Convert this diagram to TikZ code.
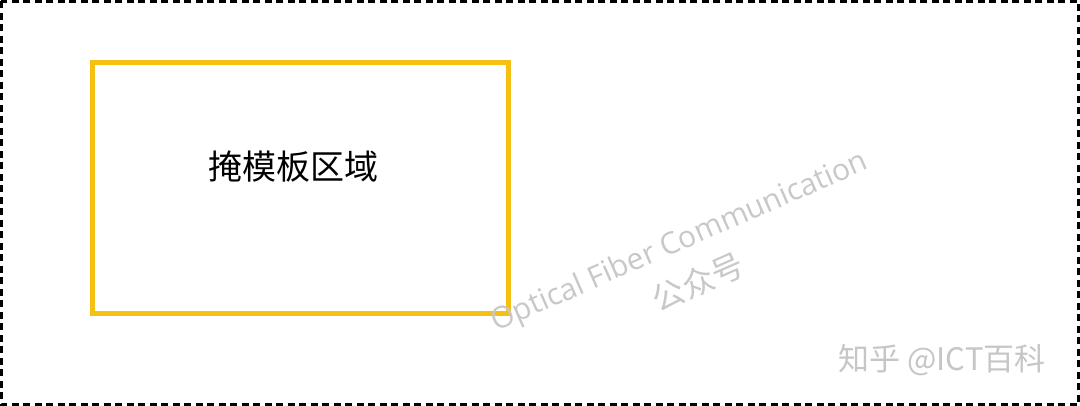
\documentclass[tikz,border=0pt]{standalone}
\usepackage{fontspec}
\newfontfamily\cjk{Noto Sans CJK SC}
\setsansfont{Open Sans}
\definecolor{maskyellow}{RGB}{245,192,18}
\definecolor{wmgray}{RGB}{200,200,200}
\begin{document}
\begin{tikzpicture}[x=1pt,y=-1pt,
  frame/.style={draw=black,line width=2.6pt,dash pattern=on 7pt off 4.5pt},
  maskbox/.style={draw=maskyellow,line width=5pt},
  wm/.style={text=wmgray,inner sep=0pt}]
\useasboundingbox (0,0) rectangle (1080,406);
\fill[white] (0,0) rectangle (1080,406);
\draw[frame] (1.3,1.3) rectangle (1078.7,404.7);
\draw[maskbox] (92.5,62.5) rectangle (508.5,313.5);
\node[inner sep=0pt] (label) at (293,167) {\cjk\fontsize{34}{34}\selectfont 掩模板区域};
\node[wm,rotate=23.6] (wm1) at (680,243) {\sffamily\fontsize{30}{30}\selectfont Optical Fiber Communication};
\node[wm,rotate=23.6] (wm2) at (698,282) {\cjk\fontsize{32}{32}\selectfont 公众号};
\node[inner sep=0pt,text=gray!45] (zh) at (942,360) {\cjk\fontsize{31}{31}\selectfont 知乎 @ICT百科};
\end{tikzpicture}
\end{document}
